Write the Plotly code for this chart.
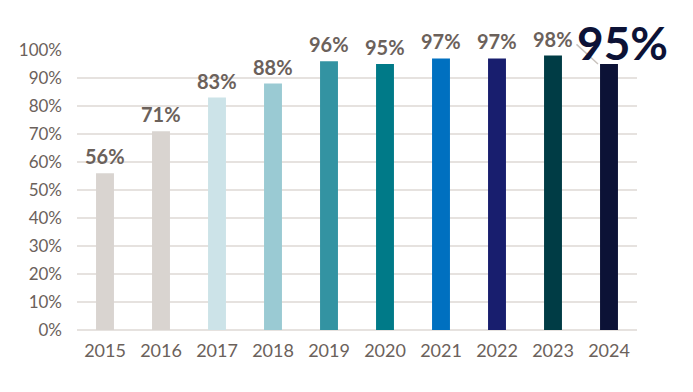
import plotly.graph_objects as go

years = ["2015", "2016", "2017", "2018", "2019", "2020", "2021", "2022", "2023", "2024"]
values = [0.56, 0.71, 0.83, 0.88, 0.96, 0.95, 0.97, 0.97, 0.98, 0.95]
labels = ["56%", "71%", "83%", "88%", "96%", "95%", "97%", "97%", "98%", "95%"]
colors = ["#d9d4d0", "#d9d4d0", "#cce3e8", "#9acad3", "#3393a2", "#007a88",
          "#0070c0", "#181e6e", "#003c45", "#0c1236"]
y_ticks = [0, 0.1, 0.2, 0.3, 0.4, 0.5, 0.6, 0.7, 0.8, 0.9, 1.0]
y_ticktext = ["0%", "10%", "20%", "30%", "40%", "50%", "60%", "70%", "80%", "90%", "100%"]

FONT = "Lato, 'Open Sans', sans-serif"
TXT = "#6b615b"

fig = go.Figure(go.Bar(
    x=years, y=values, marker=dict(color=colors, line=dict(width=0)),
    width=0.32, hoverinfo="skip",
))

annotations = []
for i, (v, lab) in enumerate(zip(values[:-1], labels[:-1])):
    annotations.append(dict(x=i, y=v, text="<b>" + lab + "</b>", showarrow=False,
                            yanchor="bottom", yshift=3,
                            font=dict(family=FONT, size=20, color=TXT)))
last = len(values) - 1
# leader line
annotations.append(dict(x=last, y=values[last], text="", showarrow=True,
                        arrowhead=0, arrowwidth=1.5, arrowcolor="#c9c3be",
                        xshift=-11, ax=-23, ay=-21, standoff=0))
# highlighted last value
annotations.append(dict(x=last, y=values[last], text="<b>" + labels[last] + "</b>",
                        showarrow=False, xanchor="center", yanchor="middle",
                        xshift=13, yshift=22,
                        font=dict(family=FONT, size=46, color="#0c1236")))

fig.update_layout(
    width=685, height=384,
    margin=dict(l=69, r=56, t=42, b=62),
    paper_bgcolor="white", plot_bgcolor="white",
    showlegend=False,
    annotations=annotations,
    font=dict(family=FONT, color=TXT),
    xaxis=dict(type="category", range=[-0.5, len(years) - 0.5], autorange=False,
               showgrid=False, showline=False, ticks="", ticklabelstandoff=8,
               tickfont=dict(family=FONT, size=18, color=TXT)),
    yaxis=dict(range=[0, 1.0], autorange=False, tickvals=y_ticks, ticktext=y_ticktext,
               showgrid=True, gridcolor="#e6e2df", gridwidth=1.5,
               zeroline=True, zerolinecolor="#e6e2df", zerolinewidth=1.5,
               showline=False, ticks="", ticklabelstandoff=14,
               tickfont=dict(family=FONT, size=17, color=TXT)),
)
fig.update_traces(cliponaxis=False)
fig.write_html("out.html")
